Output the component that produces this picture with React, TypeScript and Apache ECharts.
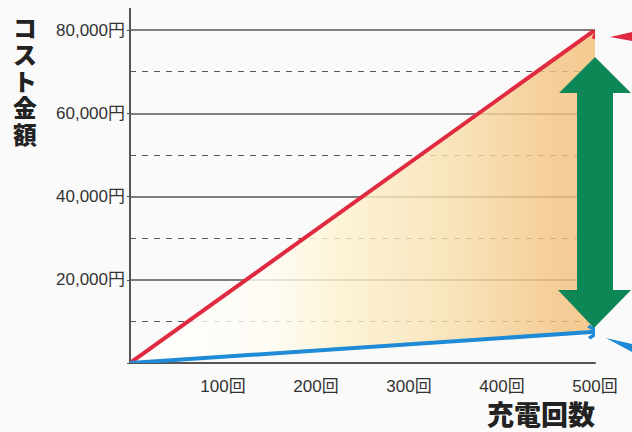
import React, { useEffect, useRef } from "react";
import * as echarts from "echarts";

const chargeCounts = [0, 500];
const highCost = [0, 80000];
const lowCost = [0, 7500];
const xTicks = [100, 200, 300, 400, 500];
const yTicks = [20000, 40000, 60000, 80000];
const yTitle = "コスト金額";
const xTitle = "充電回数";

const FONT = "'Liberation Sans', 'Noto Sans CJK JP', sans-serif";
const CJK = "'Noto Sans CJK JP', sans-serif";
const chevron = "path://M5,0 L10,8.5 L8.2,10 L5,4.6 L1.8,10 L0,8.5 Z";

export default function App() {
  const ref = useRef<HTMLDivElement>(null);
  useEffect(() => {
    document.body.style.margin = "0";
    const chart = echarts.init(ref.current!, null, { renderer: "svg" });
    const last = chargeCounts.length - 1;
    const bandData = chargeCounts.map((x, i) => [x, lowCost[i], highCost[i]]);
    const fill = new echarts.graphic.LinearGradient(0, 0, 1, 0, [
      { offset: 0, color: "#ffffff" },
      { offset: 0.3, color: "#fffcf2" },
      { offset: 0.45, color: "#fdf2cf" },
      { offset: 0.7, color: "#f8deab" },
      { offset: 0.92, color: "#f4c27e" },
      { offset: 1, color: "#f3bf78" },
    ]);
    chart.setOption({
      animation: false,
      backgroundColor: "#fafafa",
      grid: { left: 130, right: 37, top: 30, bottom: 69 },
      xAxis: {
        type: "value",
        min: 0,
        max: 500,
        interval: 100,
        axisLine: { show: true, lineStyle: { color: "#555", width: 2 } },
        axisTick: { show: false },
        splitLine: { show: false },
        axisLabel: {
          margin: 15,
          fontSize: 17,
          color: "#333",
          fontFamily: FONT,
          formatter: (v: number) => (xTicks.includes(v) ? `${v}回` : ""),
        },
      },
      yAxis: {
        type: "value",
        min: 0,
        max: 80000,
        interval: 20000,
        axisLine: { show: true, lineStyle: { color: "#555", width: 2 } },
        axisTick: { show: true, length: 3, lineStyle: { color: "#555" } },
        minorTick: { show: false, splitNumber: 2 },
        splitLine: { show: true, lineStyle: { color: "#555", width: 1.6 } },
        minorSplitLine: { show: true, lineStyle: { color: "#555", width: 1, type: [6, 6] } },
        axisLabel: {
          margin: 5,
          fontSize: 17,
          color: "#333",
          fontFamily: FONT,
          formatter: (v: number) => (yTicks.includes(v) ? `${v.toLocaleString("en-US")}円` : ""),
        },
      },
      series: [
        {
          type: "custom",
          data: bandData,
          z: 1,
          renderItem: (params: any, api: any) => {
            if (params.dataIndex !== 0) return null;
            const top = bandData.map((d) => api.coord([d[0], d[2]]));
            const bottom = bandData.map((d) => api.coord([d[0], d[1]])).reverse();
            return {
              type: "polygon",
              shape: { points: top.concat(bottom) },
              style: { fill, opacity: 0.8 },
            };
          },
        },
        {
          type: "lines",
          coordinateSystem: "cartesian2d",
          symbol: ["none", chevron],
          symbolSize: 15,
          z: 3,
          data: [
            {
              coords: [[chargeCounts[0], highCost[0]], [chargeCounts[last], highCost[last]]],
              lineStyle: { color: "#e02a40", width: 4 },
            },
            {
              coords: [[chargeCounts[0], lowCost[0]], [chargeCounts[last], lowCost[last]]],
              lineStyle: { color: "#1f8bd6", width: 4 },
            },
          ],
          lineStyle: { opacity: 1 },
        },
      ],
      graphic: [
        {
          type: "line",
          shape: { x1: 130, y1: 8, x2: 130, y2: 31 },
          style: { stroke: "#555", lineWidth: 2 },
        },
        ...yTitle.split("").map((ch, i) => ({
          type: "text",
          x: 25,
          y: 15 + i * 26.6,
          scaleX: 1.4,
          scaleY: 1.4,
          style: {
            text: ch,
            font: `900 17px ${CJK}`,
            lineHeight: 17,
            fill: "#222",
            align: "center",
            verticalAlign: "top",
          },
        })),
        {
          type: "text",
          left: 487,
          top: 400,
          style: { text: xTitle, font: `900 27px ${CJK}`, fill: "#222" },
        },
        {
          type: "polygon",
          z: 10,
          shape: {
            points: [
              [595, 57], [631, 93], [613, 93], [613, 290], [631, 290],
              [594, 328], [558, 290], [577, 290], [577, 93], [559, 93],
            ],
          },
          style: { fill: "#0e8757" },
        },
        {
          type: "polygon",
          z: 10,
          shape: { points: [[610, 37], [632, 32], [632, 41]] },
          style: { fill: "#e02a40" },
        },
        {
          type: "polygon",
          z: 10,
          shape: { points: [[606, 338], [632, 344], [632, 352]] },
          style: { fill: "#1f8bd6" },
        },
      ],
    });
    return () => chart.dispose();
  }, []);
  return <div ref={ref} style={{ position: "fixed", left: 0, top: 0, width: 632, height: 432 }} />;
}
